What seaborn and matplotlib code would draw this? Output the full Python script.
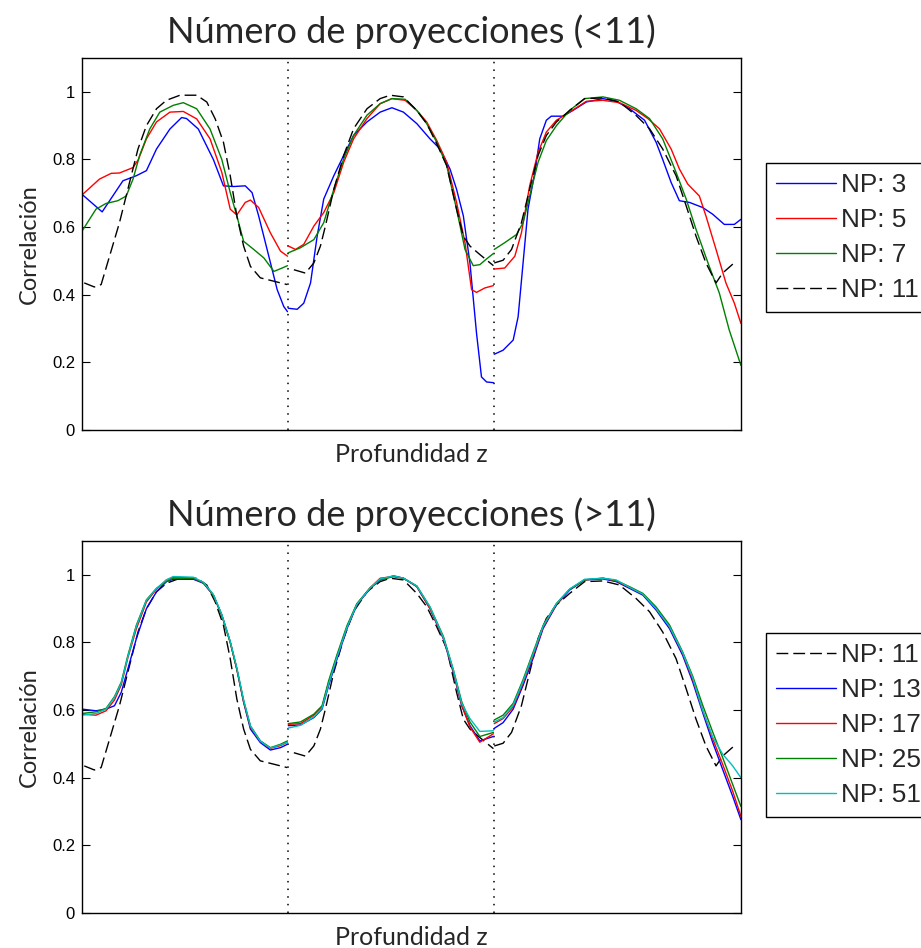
import numpy as np
import pandas as pd
import matplotlib
matplotlib.use("Agg")
import matplotlib.pyplot as plt
import seaborn as sns

# ---------------------------------------------------------------------------
# Correlation versus depth for three consecutive sections (z in samples;
# section boundaries at z = 100 and z = 200).
# ---------------------------------------------------------------------------
section_edges = [100, 200]
z_max = 320

# --- NP: 3 ---
np3_z = [0, 9.8, 19.9, 26.4, 31.3, 36.2, 42.7, 48.4, 50.8, 56.5, 63.8, 68.7, 73.6, 79.3, 82.6, 85.8, 89.9, 94.8, 98.0, 99.8,
         100.2, 104.5, 107.7, 111.0, 114.2, 117.4, 122.3, 127.1, 131.9, 138.4, 144.8, 150.5, 156.1, 162.6, 169.0, 173.9,
         178.7, 181.9, 185.2, 188.4, 191.6, 194.0, 196.5, 199.8,
         200.2, 204.5, 209.4, 211.8, 214.2, 216.6, 219.9, 222.3, 225.5, 227.9, 233.6, 238.4, 244.9, 253.0, 259.4, 265.9,
         273.2, 278.8, 282.0, 286.1, 290.1, 295.0, 301.4, 306.3, 311.9, 316.8, 320]
np3_c = [0.697, 0.645, 0.737, 0.752, 0.767, 0.831, 0.89, 0.924, 0.921, 0.89, 0.80, 0.722, 0.72, 0.722, 0.702, 0.633, 0.534, 0.415, 0.365, 0.35,
         0.36, 0.357, 0.375, 0.435, 0.573, 0.683, 0.752, 0.812, 0.871, 0.911, 0.94, 0.953, 0.94, 0.906, 0.861, 0.831,
         0.772, 0.712, 0.633, 0.494, 0.286, 0.157, 0.142, 0.14,
         0.224, 0.236, 0.266, 0.335, 0.494, 0.653, 0.762, 0.861, 0.916, 0.928, 0.928, 0.945, 0.97, 0.98, 0.972, 0.95,
         0.916, 0.851, 0.80, 0.732, 0.678, 0.673, 0.658, 0.638, 0.608, 0.608, 0.623]

# --- NP: 5 ---
np5_z = [0, 8.5, 14.2, 18.2, 24.8, 27.4, 31.3, 36.2, 42.7, 49.2, 55.7, 62.2, 67.9, 72.0, 75.2, 79.3, 81.8, 85.8, 91.5, 96.4, 99.8,
         100.2, 103.7, 107.7, 112.6, 117.4, 122.3, 127.1, 131.9, 138.4, 144.8, 150.5, 156.9, 162.6, 167.4, 172.3, 177.1,
         181.9, 186.0, 189.2, 191.6, 195.6, 199.8,
         200.2, 205.3, 210.2, 213.4, 217.4, 221.5, 225.5, 230.4, 236.8, 244.9, 253.0, 261.0, 269.1, 274.8, 280.4, 286.1,
         290.1, 294.2, 299.8, 303.0, 307.9, 312.7, 316.8, 320]
np5_c = [0.695, 0.742, 0.759, 0.76, 0.776, 0.80, 0.861, 0.911, 0.94, 0.942, 0.92, 0.861, 0.762, 0.653, 0.636, 0.673, 0.68, 0.658, 0.583, 0.529, 0.514,
         0.544, 0.534, 0.549, 0.603, 0.643, 0.702, 0.792, 0.861, 0.921, 0.965, 0.98, 0.975, 0.945, 0.911, 0.856, 0.792,
         0.673, 0.554, 0.415, 0.407, 0.42, 0.427,
         0.476, 0.479, 0.514, 0.583, 0.722, 0.821, 0.881, 0.916, 0.94, 0.972, 0.975, 0.968, 0.945, 0.921, 0.891, 0.831,
         0.772, 0.727, 0.692, 0.633, 0.534, 0.435, 0.375, 0.315]

# --- NP: 7 ---
np7_z = [0, 6.8, 11.7, 17.4, 21.5, 24.8, 28.0, 32.9, 37.8, 44.3, 49.2, 55.7, 62.2, 67.9, 72.0, 75.2, 78.5, 83.4, 88.3, 93.2, 97.2, 99.8,
         100.2, 106.1, 112.6, 117.4, 122.3, 127.1, 131.9, 138.4, 144.8, 150.5, 156.9, 162.6, 167.4, 172.3, 177.1, 181.9,
         186.0, 190.0, 193.2, 196.5, 199.8,
         200.2, 205.3, 211.0, 214.2, 218.2, 221.5, 225.5, 230.4, 236.8, 244.1, 253.0, 261.0, 269.1, 275.6, 282.0, 288.5,
         293.4, 298.2, 304.6, 309.5, 314.3, 320]
np7_c = [0.588, 0.653, 0.67, 0.678, 0.692, 0.742, 0.812, 0.89, 0.94, 0.96, 0.968, 0.95, 0.89, 0.80, 0.702, 0.633, 0.558, 0.534, 0.509, 0.469, 0.479, 0.486,
         0.524, 0.539, 0.563, 0.613, 0.712, 0.802, 0.871, 0.931, 0.965, 0.98, 0.978, 0.945, 0.906, 0.851, 0.782, 0.653,
         0.534, 0.486, 0.489, 0.506, 0.522,
         0.534, 0.554, 0.578, 0.613, 0.712, 0.792, 0.856, 0.90, 0.945, 0.98, 0.985, 0.975, 0.95, 0.921, 0.861, 0.762,
         0.683, 0.593, 0.484, 0.405, 0.296, 0.191]

# --- NP: 11 (shown in both panels) ---
np11_z = [1.1, 6.0, 9.3, 13.4, 18.2, 23.1, 27.2, 31.3, 36.2, 41.0, 47.6, 55.7, 60.6, 64.7, 68.7, 72.0, 75.2, 78.5, 81.8, 86.6, 93.2, 99.7,
          102.9, 108.5, 112.6, 115.8, 118.2, 122.3, 127.1, 131.9, 138.4, 144.8, 149.7, 156.1, 162.6, 167.4, 172.3, 177.1,
          181.9, 185.2, 188.4, 193.2, 199.8,
          200.2, 204.5, 208.6, 213.4, 217.4, 221.5, 225.5, 230.4, 236.8, 244.1, 253.0, 261.0, 269.1, 275.6, 282.0, 288.5,
          293.4, 298.2, 303.0, 307.9, 311.1, 317.6]
np11_c = [0.435, 0.423, 0.43, 0.514, 0.613, 0.732, 0.831, 0.90, 0.95, 0.975, 0.99, 0.99, 0.97, 0.92, 0.851, 0.752, 0.633, 0.544, 0.484, 0.45, 0.44, 0.43,
          0.474, 0.464, 0.494, 0.544, 0.603, 0.712, 0.812, 0.891, 0.95, 0.98, 0.99, 0.985, 0.945, 0.906, 0.846, 0.782,
          0.653, 0.573, 0.544, 0.519, 0.486,
          0.494, 0.502, 0.534, 0.613, 0.712, 0.812, 0.871, 0.911, 0.945, 0.98, 0.982, 0.97, 0.93, 0.891, 0.831, 0.752,
          0.663, 0.573, 0.494, 0.435, 0.464, 0.499]

# --- higher projection counts share one depth grid ---
high_z = [0, 6.8, 11.7, 15.8, 19.1, 22.3, 26.4, 31.3, 36.2, 41.0, 44.3, 54.1, 59.0, 63.8, 67.9, 72.0, 75.2, 78.5, 81.8, 86.6, 91.5, 96.4, 99.8,
          100.2, 106.1, 112.6, 116.6, 119.8, 123.9, 128.7, 133.5, 140.0, 144.8, 151.3, 156.1, 162.6, 169.0, 175.5, 180.3,
          184.4, 188.4, 193.2, 199.8,
          200.2, 204.5, 209.4, 214.2, 219.0, 223.9, 230.4, 236.8, 244.1, 253.0, 259.4, 265.9, 272.4, 278.8, 285.3, 291.7,
          296.6, 301.4, 306.3, 311.1, 316.0, 320]
np13_c = [0.603, 0.598, 0.603, 0.613, 0.653, 0.722, 0.811, 0.90, 0.95, 0.98, 0.987, 0.987, 0.975, 0.94, 0.881, 0.802, 0.722, 0.623, 0.544, 0.504, 0.482, 0.489, 0.499,
          0.554, 0.556, 0.578, 0.603, 0.673, 0.752, 0.841, 0.911, 0.96, 0.985, 0.997, 0.99, 0.965, 0.90, 0.811, 0.712,
          0.613, 0.554, 0.509, 0.522,
          0.546, 0.563, 0.603, 0.673, 0.752, 0.841, 0.911, 0.955, 0.985, 0.988, 0.98, 0.96, 0.94, 0.896, 0.841, 0.762,
          0.683, 0.593, 0.504, 0.425, 0.345, 0.276]
np17_c = [0.588, 0.585, 0.598, 0.63, 0.675, 0.755, 0.84, 0.92, 0.958, 0.985, 0.993, 0.99, 0.976, 0.94, 0.881, 0.80, 0.72, 0.625, 0.55, 0.508, 0.487, 0.495, 0.505,
          0.558, 0.56, 0.585, 0.61, 0.68, 0.76, 0.845, 0.913, 0.962, 0.99, 0.995, 0.99, 0.966, 0.90, 0.813, 0.715,
          0.615, 0.55, 0.505, 0.53,
          0.56, 0.575, 0.61, 0.68, 0.76, 0.845, 0.913, 0.957, 0.985, 0.99, 0.982, 0.963, 0.943, 0.90, 0.847, 0.768,
          0.69, 0.60, 0.515, 0.44, 0.36, 0.286]
np25_c = [0.59, 0.595, 0.605, 0.64, 0.683, 0.762, 0.851, 0.926, 0.96, 0.98, 0.99, 0.99, 0.977, 0.94, 0.881, 0.80, 0.722, 0.628, 0.553, 0.509, 0.489, 0.499, 0.509,
          0.56, 0.565, 0.588, 0.613, 0.687, 0.765, 0.85, 0.915, 0.962, 0.985, 0.995, 0.99, 0.967, 0.905, 0.818, 0.72,
          0.625, 0.565, 0.522, 0.534,
          0.571, 0.585, 0.62, 0.69, 0.77, 0.85, 0.915, 0.957, 0.985, 0.99, 0.983, 0.965, 0.945, 0.905, 0.852, 0.772,
          0.70, 0.615, 0.535, 0.46, 0.38, 0.315]
np51_c = [0.585, 0.59, 0.603, 0.638, 0.68, 0.758, 0.848, 0.925, 0.96, 0.985, 0.995, 0.993, 0.978, 0.942, 0.883, 0.803, 0.725, 0.63, 0.553, 0.508, 0.488, 0.497, 0.505,
          0.547, 0.555, 0.58, 0.606, 0.678, 0.758, 0.845, 0.913, 0.962, 0.988, 0.997, 0.99, 0.967, 0.905, 0.815, 0.72,
          0.62, 0.575, 0.537, 0.539,
          0.565, 0.578, 0.615, 0.685, 0.765, 0.848, 0.915, 0.958, 0.987, 0.99, 0.985, 0.963, 0.943, 0.90, 0.847, 0.77,
          0.695, 0.60, 0.52, 0.47, 0.435, 0.40]

low_labels = ["NP: 3", "NP: 5", "NP: 7", "NP: 11"]
high_labels = ["NP: 11", "NP: 13", "NP: 17", "NP: 25", "NP: 51"]
titles = ["Número de proyecciones (<11)", "Número de proyecciones (>11)"]
y_ticks = [0, 0.2, 0.4, 0.6, 0.8, 1]
y_tick_labels = ["0", "0.2", "0.4", "0.6", "0.8", "1"]

palette = {"NP: 3": "#0000ff", "NP: 5": "#ff0000", "NP: 7": "#008000", "NP: 11": "#000000",
           "NP: 13": "#0000ff", "NP: 17": "#ff0000", "NP: 25": "#008000", "NP: 51": "#00bfbf"}
dashes = {k: "" for k in palette}
dashes["NP: 11"] = (8.5, 3.6)


def tidy(series):
    frames = []
    for label, z, c in series:
        d = pd.DataFrame({"z": z, "c": c})
        d["NP"] = label
        d["seg"] = np.digitize(d["z"], section_edges)
        frames.append(d)
    return pd.concat(frames, ignore_index=True)


low_df = tidy([("NP: 3", np3_z, np3_c), ("NP: 5", np5_z, np5_c),
               ("NP: 7", np7_z, np7_c), ("NP: 11", np11_z, np11_c)])
high_df = tidy([("NP: 11", np11_z, np11_c), ("NP: 13", high_z, np13_c),
                ("NP: 17", high_z, np17_c), ("NP: 25", high_z, np25_c),
                ("NP: 51", high_z, np51_c)])

sns.set_theme(style="white")
plt.rcParams.update({
    "font.family": ["Liberation Sans", "DejaVu Sans"],
    "axes.edgecolor": "black",
    "axes.linewidth": 1.0,
    "legend.fancybox": False,
    "legend.edgecolor": "black",
    "legend.framealpha": 1.0,
})
label_font = ["Lato", "DejaVu Sans"]

fig = plt.figure(figsize=(9.21, 9.48), dpi=100)
ax_top = fig.add_axes([0.089, 0.5464, 0.7155, 0.3924])
ax_bot = fig.add_axes([0.089, 0.0369, 0.7155, 0.3924])

panels = [(ax_top, low_df, low_labels, titles[0], 0.718),
          (ax_bot, high_df, high_labels, titles[1], 0.753)]

for ax, df, order, title, leg_y in panels:
    sns.lineplot(data=df, x="z", y="c", hue="NP", style="NP",
                 hue_order=order, style_order=order,
                 palette=palette, dashes=dashes, units="seg",
                 estimator=None, sort=False, linewidth=1.0, ax=ax)
    for edge in section_edges:
        ax.axvline(edge, color="black", linewidth=1.1,
                   linestyle=(0, (1.0, 4.0)), zorder=0.5)
    ax.set_xlim(0, z_max)
    ax.set_ylim(0, 1.1)
    ax.set_xticks([])
    ax.set_yticks(y_ticks)
    ax.set_yticklabels(y_tick_labels)
    ax.tick_params(axis="y", direction="in", length=6, width=0.8,
                   right=True, left=True, labelsize=12, pad=5,
                   colors="black")
    ax.set_title(title, fontsize=26, family=label_font, pad=11)
    ax.set_ylabel("Correlación", fontsize=17, family=label_font,
                  labelpad=9)
    ax.set_xlabel("Profundidad z", fontsize=18, family=label_font,
                  labelpad=9)
    for s in ax.spines.values():
        s.set_visible(True)
        s.set_color("black")
    sns.move_legend(ax, "upper left", bbox_to_anchor=(1.038, leg_y),
                    title=None, frameon=True, fontsize=18.8,
                    handlelength=2.3, handletextpad=0.2, labelspacing=0.42,
                    borderpad=0.38, borderaxespad=0.0)
    ax.get_legend().get_frame().set_linewidth(1.0)

fig.savefig("out.png", dpi=100)
